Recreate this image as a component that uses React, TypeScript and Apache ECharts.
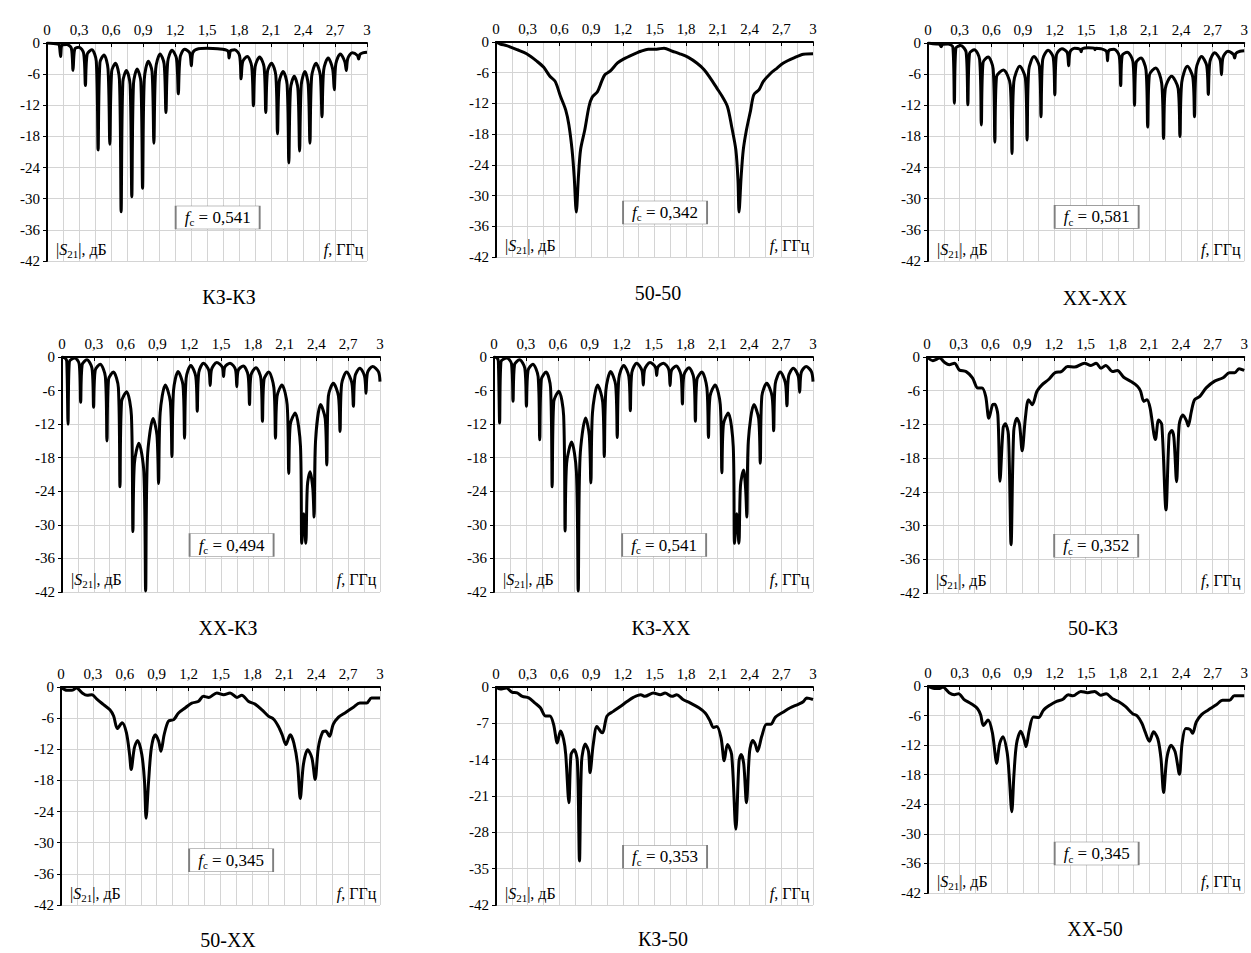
import React, { useEffect, useRef } from 'react';
import * as echarts from 'echarts';

const FONT = '"Liberation Serif", "Times New Roman", serif';

// ---------- DATA ----------
const titles = ['КЗ-КЗ', '50-50', 'ХХ-ХХ', 'ХХ-КЗ', 'КЗ-ХХ', '50-КЗ', '50-ХХ', 'КЗ-50', 'ХХ-50'];
const fcValues = ['0,541', '0,342', '0,581', '0,494', '0,541', '0,352', '0,345', '0,353', '0,345'];
const xTicks = [0, 0.3, 0.6, 0.9, 1.2, 1.5, 1.8, 2.1, 2.4, 2.7, 3];
const yTicksStep6 = [0, -6, -12, -18, -24, -30, -36, -42];
const yTicksStep7 = [0, -7, -14, -21, -28, -35, -42];
const yTickSets = [yTicksStep6, yTicksStep6, yTicksStep6, yTicksStep6, yTicksStep6, yTicksStep6, yTicksStep6, yTicksStep7, yTicksStep6];

const curveKZKZ = [
  [0, 0], [0.1, -0.2], [0.115, -0.4], [0.128, -2.6], [0.141, -0.4], [0.185, -0.3],
  [0.228, -1.0], [0.244, -5.3], [0.26, -1.2], [0.3, -0.8],
  [0.344, -2.0], [0.36, -8.2], [0.376, -2.2], [0.42, -1.3],
  [0.462, -3.5], [0.479, -20.6], [0.496, -3.8], [0.535, -2.3],
  [0.572, -5.0], [0.589, -19.5], [0.606, -5.5], [0.642, -3.9],
  [0.679, -7.0], [0.695, -32.5], [0.711, -7.5], [0.745, -5.3],
  [0.779, -8.0], [0.795, -29.6], [0.811, -7.8], [0.845, -5.0],
  [0.88, -7.5], [0.896, -28.0], [0.912, -7.0], [0.95, -3.5],
  [0.985, -5.5], [1.002, -19.3], [1.019, -5.0], [1.06, -2.1],
  [1.098, -4.0], [1.115, -13.4], [1.132, -3.6], [1.172, -1.4],
  [1.214, -3.0], [1.231, -9.8], [1.248, -2.8], [1.29, -1.2],
  [1.338, -1.9], [1.353, -4.4], [1.368, -1.8], [1.42, -1.1], [1.5, -1.0], [1.6, -1.1],
  [1.695, -1.5], [1.707, -2.9], [1.72, -1.5], [1.76, -1.3],
  [1.805, -2.4], [1.82, -6.9], [1.835, -3.6], [1.878, -2.6],
  [1.919, -4.5], [1.935, -12.1], [1.951, -4.6], [1.993, -2.7],
  [2.035, -4.6], [2.051, -13.4], [2.067, -5.5], [2.105, -3.9],
  [2.145, -6.2], [2.161, -17.5], [2.177, -7.5], [2.214, -5.5],
  [2.251, -8.0], [2.267, -23.1], [2.283, -8.8], [2.318, -6.4],
  [2.352, -8.8], [2.368, -20.8], [2.384, -8.0], [2.418, -5.5],
  [2.449, -8.0], [2.465, -19.3], [2.481, -6.5], [2.522, -3.9],
  [2.562, -6.2], [2.578, -14.2], [2.594, -5.2], [2.636, -2.9],
  [2.678, -5.0], [2.693, -9.0], [2.708, -4.0], [2.75, -2.1],
  [2.792, -3.6], [2.806, -5.3], [2.82, -3.0], [2.862, -1.9],
  [2.91, -2.4], [2.922, -3.1], [2.934, -2.2], [2.96, -1.9], [3, -1.8],
];

const curve5050 = [
  [0, 0], [0.04, -0.4], [0.1, -0.7], [0.2, -1.5], [0.29, -2.3], [0.39, -3.8], [0.45, -4.9],
  [0.51, -6.7], [0.56, -7.7], [0.61, -10.6], [0.66, -13.3], [0.69, -16.2], [0.72, -21.1],
  [0.74, -26.3], [0.76, -33.2], [0.78, -26.3], [0.8, -21.1], [0.84, -17.2], [0.88, -12.6],
  [0.91, -10.8], [0.96, -9.7], [1.0, -7.7], [1.03, -6.4], [1.08, -5.7], [1.15, -4.1],
  [1.21, -3.3], [1.29, -2.5], [1.37, -1.8], [1.44, -1.4], [1.52, -1.4], [1.59, -1.2],
  [1.67, -1.8], [1.74, -2.3], [1.82, -3.0], [1.9, -4.1], [1.97, -5.4], [2.03, -7.1],
  [2.09, -9.0], [2.14, -10.6], [2.19, -12.6], [2.23, -16.5], [2.27, -21.1], [2.29, -27.0],
  [2.3, -33.2], [2.32, -26.3], [2.34, -21.1], [2.37, -17.2], [2.41, -13.3], [2.44, -10.3],
  [2.49, -9.3], [2.53, -7.7], [2.6, -6.1], [2.66, -5.1], [2.72, -4.1], [2.82, -3.1],
  [2.91, -2.4], [3, -2.3],
];

const curveXXXX = [
  [0, 0], [0.08, -0.2], [0.11, -0.25], [0.125, -0.7], [0.14, -0.25], [0.19, -0.2],
  [0.236, -0.8], [0.25, -11.6], [0.264, -1.0], [0.31, -0.5],
  [0.362, -1.8], [0.378, -11.9], [0.394, -2.0], [0.44, -1.3],
  [0.49, -3.2], [0.506, -15.8], [0.522, -3.8], [0.57, -2.7],
  [0.618, -5.0], [0.634, -19.1], [0.65, -6.5], [0.715, -5.2],
  [0.78, -8.0], [0.797, -21.3], [0.814, -7.5], [0.87, -4.5],
  [0.924, -6.8], [0.94, -18.7], [0.956, -5.2], [1.005, -2.6],
  [1.056, -4.5], [1.072, -14.2], [1.088, -3.2], [1.14, -1.4],
  [1.188, -2.8], [1.203, -10.0], [1.218, -2.3], [1.27, -1.1],
  [1.32, -1.8], [1.334, -4.4], [1.348, -1.7], [1.39, -1.0],
  [1.443, -1.2], [1.453, -1.7], [1.463, -1.1], [1.52, -0.9],
  [1.576, -1.0], [1.584, -1.3], [1.592, -1.0], [1.64, -1.1],
  [1.692, -1.6], [1.703, -3.4], [1.714, -1.5], [1.765, -1.2],
  [1.814, -2.5], [1.828, -8.2], [1.842, -2.4], [1.89, -1.8],
  [1.944, -3.6], [1.959, -12.0], [1.974, -3.8], [2.02, -2.9],
  [2.068, -5.2], [2.084, -16.2], [2.1, -6.2], [2.16, -4.8],
  [2.217, -7.8], [2.234, -18.4], [2.251, -8.8], [2.31, -6.4],
  [2.373, -8.8], [2.39, -18.0], [2.407, -7.6], [2.46, -4.5],
  [2.512, -6.6], [2.528, -14.2], [2.544, -5.0], [2.595, -2.6],
  [2.644, -4.4], [2.659, -9.9], [2.674, -3.6], [2.72, -1.9],
  [2.77, -3.2], [2.784, -6.1], [2.798, -2.8], [2.845, -1.6],
  [2.897, -2.2], [2.909, -2.9], [2.921, -2.0], [2.96, -1.6], [3, -1.5],
];

const curveXXKZ = [
  [0, 0], [0.03, -0.2], [0.045, -0.8], [0.057, -12.0], [0.069, -0.9], [0.12, -0.2],
  [0.162, -1.2], [0.176, -8.1], [0.19, -1.4], [0.235, -0.5],
  [0.283, -2.0], [0.298, -9.0], [0.313, -2.4], [0.36, -1.3],
  [0.409, -3.5], [0.424, -15.0], [0.439, -4.0], [0.485, -2.7],
  [0.532, -5.5], [0.547, -23.2], [0.562, -8.0], [0.61, -6.2],
  [0.655, -10.5], [0.669, -31.2], [0.683, -19.0], [0.725, -15.4],
  [0.772, -20.5], [0.789, -41.8], [0.806, -18.0], [0.86, -11.0],
  [0.896, -14.0], [0.911, -22.6], [0.926, -10.0], [0.975, -5.0],
  [1.022, -8.0], [1.037, -17.8], [1.052, -6.0], [1.095, -2.6],
  [1.141, -5.0], [1.156, -14.5], [1.171, -3.8], [1.215, -1.5],
  [1.262, -3.5], [1.276, -9.7], [1.29, -2.8], [1.335, -1.1],
  [1.385, -2.4], [1.398, -5.1], [1.411, -2.2], [1.46, -1.0],
  [1.512, -1.8], [1.524, -3.5], [1.536, -1.8], [1.585, -1.1],
  [1.636, -2.2], [1.649, -5.3], [1.662, -2.4], [1.71, -1.6],
  [1.755, -3.2], [1.769, -8.5], [1.783, -3.2], [1.83, -1.9],
  [1.876, -3.8], [1.891, -11.5], [1.906, -4.0], [1.95, -2.7],
  [1.999, -5.5], [2.014, -14.5], [2.029, -7.0], [2.075, -5.0],
  [2.124, -8.5], [2.139, -20.8], [2.154, -12.0], [2.2, -10.0],
  [2.25, -16.0], [2.262, -33.3], [2.281, -28.0], [2.3, -33.3], [2.315, -23.0], [2.34, -20.5],
  [2.366, -23.5], [2.378, -28.6], [2.392, -15.0], [2.44, -8.5],
  [2.483, -11.0], [2.498, -19.3], [2.513, -7.0], [2.56, -4.7],
  [2.608, -7.0], [2.623, -13.3], [2.638, -4.8], [2.685, -2.7],
  [2.734, -4.6], [2.749, -8.8], [2.764, -3.5], [2.81, -2.0],
  [2.854, -3.4], [2.868, -6.5], [2.882, -2.8], [2.93, -1.7],
  [2.985, -2.6], [3, -4.4],
];

const curveKZXX = [
  [0, 0], [0.03, -0.2], [0.041, -0.8], [0.053, -11.8], [0.065, -0.9], [0.12, -0.2],
  [0.165, -1.2], [0.179, -7.9], [0.193, -1.4], [0.24, -0.5],
  [0.29, -2.0], [0.305, -8.8], [0.32, -2.4], [0.365, -1.3],
  [0.415, -3.5], [0.43, -14.8], [0.445, -4.0], [0.49, -2.7],
  [0.532, -5.5], [0.547, -23.2], [0.562, -8.0], [0.61, -6.1],
  [0.655, -10.5], [0.669, -31.1], [0.683, -19.0], [0.73, -15.2],
  [0.775, -20.5], [0.792, -41.8], [0.809, -18.0], [0.862, -10.9],
  [0.896, -14.0], [0.911, -22.5], [0.926, -10.0], [0.975, -5.0],
  [1.022, -8.0], [1.037, -17.8], [1.052, -6.0], [1.097, -2.6],
  [1.144, -5.0], [1.159, -14.4], [1.174, -3.8], [1.22, -1.5],
  [1.268, -3.5], [1.282, -9.6], [1.296, -2.8], [1.342, -1.1],
  [1.391, -2.4], [1.404, -5.0], [1.417, -2.2], [1.467, -1.0],
  [1.518, -1.8], [1.53, -3.3], [1.542, -1.8], [1.593, -1.1],
  [1.643, -2.2], [1.656, -5.1], [1.669, -2.4], [1.714, -1.6],
  [1.758, -3.2], [1.772, -8.4], [1.786, -3.2], [1.833, -1.9],
  [1.879, -3.8], [1.894, -11.5], [1.909, -4.0], [1.955, -2.7],
  [2.002, -5.5], [2.017, -14.4], [2.032, -7.0], [2.08, -5.0],
  [2.128, -8.5], [2.143, -20.7], [2.158, -12.0], [2.203, -10.0],
  [2.25, -16.0], [2.262, -33.3], [2.283, -28.0], [2.303, -33.3], [2.318, -23.0], [2.347, -20.2],
  [2.366, -23.5], [2.378, -28.6], [2.392, -15.0], [2.445, -8.5],
  [2.489, -11.0], [2.504, -19.0], [2.519, -7.0], [2.565, -4.7],
  [2.615, -7.0], [2.63, -13.2], [2.645, -4.8], [2.692, -2.7],
  [2.74, -4.6], [2.755, -8.7], [2.77, -3.5], [2.815, -2.0],
  [2.861, -3.4], [2.875, -6.3], [2.889, -2.8], [2.935, -1.7],
  [2.985, -2.6], [3, -4.4],
];

const curve50KZ = [
  [0, 0], [0.056, -0.65], [0.12, -0.2], [0.165, -0.95], [0.21, -1.4], [0.26, -1.1],
  [0.305, -2.3], [0.37, -2.6], [0.43, -3.7], [0.48, -5.5], [0.52, -5.5], [0.555, -7.0],
  [0.585, -10.9], [0.62, -8.5], [0.64, -8.4], [0.67, -10.3], [0.69, -22.1], [0.72, -12.6],
  [0.74, -11.9], [0.77, -13.8], [0.795, -33.4], [0.82, -13.2], [0.85, -10.9], [0.875, -12.0],
  [0.9, -16.7], [0.93, -10.9], [0.96, -7.6], [0.995, -8.5], [1.04, -6.1], [1.085, -5.0],
  [1.15, -4.0], [1.21, -2.8], [1.27, -2.6], [1.33, -1.7], [1.395, -1.8], [1.49, -1.1],
  [1.55, -1.5], [1.6, -1.1], [1.645, -2.0], [1.69, -1.5], [1.755, -2.6], [1.8, -2.4],
  [1.86, -3.6], [1.925, -4.3], [1.99, -5.2], [2.02, -6.1], [2.05, -7.9], [2.08, -7.6],
  [2.11, -9.1], [2.16, -14.7], [2.19, -11.2], [2.22, -12.0], [2.26, -27.2], [2.29, -13.8],
  [2.315, -13.1], [2.335, -14.4], [2.36, -22.2], [2.385, -12.0], [2.42, -10.3], [2.455, -11.4],
  [2.47, -12.3], [2.5, -9.7], [2.53, -7.6], [2.58, -7.0], [2.64, -5.5], [2.72, -4.3],
  [2.8, -3.7], [2.86, -2.8], [2.91, -2.8], [2.95, -2.1], [3, -2.4],
];

const curve50XX = [
  [0, 0], [0.056, -0.65], [0.1, -0.65], [0.145, -0.2], [0.2, -1.15], [0.245, -1.6],
  [0.29, -1.5], [0.34, -2.4], [0.4, -3.4], [0.46, -4.4], [0.495, -5.6], [0.53, -8.0],
  [0.575, -6.9], [0.615, -8.8], [0.645, -13.0], [0.66, -15.9], [0.69, -11.7], [0.72, -10.3],
  [0.76, -13.0], [0.785, -18.1], [0.8, -25.3], [0.824, -18.1], [0.85, -11.7], [0.886, -9.2],
  [0.918, -10.4], [0.94, -12.4], [0.97, -9.2], [1.01, -6.6], [1.06, -6.3], [1.105, -5.0],
  [1.17, -4.0], [1.23, -3.1], [1.29, -2.8], [1.34, -1.8], [1.39, -2.0], [1.465, -1.15],
  [1.53, -1.5], [1.59, -1.15], [1.655, -2.0], [1.7, -1.6], [1.765, -2.8], [1.825, -3.3],
  [1.89, -4.4], [1.95, -5.6], [2.0, -6.2], [2.045, -7.6], [2.08, -9.2], [2.115, -11.1],
  [2.155, -9.2], [2.19, -10.8], [2.225, -14.9], [2.25, -21.5], [2.28, -14.9], [2.32, -12.1],
  [2.36, -13.7], [2.39, -17.8], [2.42, -11.7], [2.46, -8.7], [2.49, -8.5], [2.525, -9.5],
  [2.56, -7.2], [2.61, -5.8], [2.67, -5.0], [2.75, -3.9], [2.81, -3.1], [2.875, -3.1],
  [2.92, -2.1], [3, -2.1],
];

const curveKZ50 = [
  [0, 0], [0.04, -0.4], [0.1, -0.2], [0.15, -1.0], [0.2, -1.15], [0.25, -1.8],
  [0.31, -2.1], [0.37, -3.1], [0.42, -4.0], [0.47, -5.6], [0.51, -5.6], [0.545, -7.2],
  [0.58, -10.8], [0.61, -8.5], [0.64, -10.1], [0.66, -13.0], [0.69, -22.3], [0.71, -13.0],
  [0.74, -12.1], [0.77, -14.3], [0.79, -33.5], [0.81, -14.3], [0.845, -11.0], [0.875, -12.4],
  [0.89, -16.5], [0.92, -11.1], [0.955, -7.6], [0.995, -8.7], [1.01, -8.8], [1.05, -5.6],
  [1.11, -4.7], [1.18, -3.7], [1.24, -2.8], [1.3, -2.0], [1.37, -1.5], [1.41, -1.8],
  [1.49, -1.15], [1.555, -1.5], [1.6, -1.15], [1.665, -1.8], [1.71, -1.5], [1.77, -2.4],
  [1.84, -3.1], [1.92, -4.0], [1.98, -5.0], [2.02, -6.3], [2.06, -7.8], [2.09, -7.6],
  [2.13, -9.8], [2.16, -14.2], [2.19, -11.1], [2.23, -13.0], [2.27, -27.4], [2.3, -14.3],
  [2.32, -13.0], [2.345, -14.9], [2.37, -22.3], [2.4, -12.4], [2.43, -10.3], [2.455, -11.1],
  [2.475, -12.4], [2.515, -9.5], [2.56, -7.2], [2.6, -7.2], [2.645, -5.8], [2.72, -4.8],
  [2.785, -4.0], [2.865, -3.3], [2.91, -2.8], [2.94, -2.1], [3, -2.4],
];

const curveXX50 = [
  [0, 0], [0.06, -0.5], [0.11, -0.5], [0.14, -0.2], [0.2, -1.35], [0.25, -1.75],
  [0.29, -1.55], [0.34, -2.7], [0.41, -3.6], [0.47, -4.6], [0.5, -5.9], [0.525, -8.0],
  [0.57, -6.9], [0.61, -9.4], [0.635, -13.5], [0.65, -15.7], [0.68, -11.7], [0.71, -10.3],
  [0.75, -13.4], [0.77, -18.1], [0.795, -25.5], [0.815, -18.1], [0.84, -11.7], [0.88, -9.2],
  [0.91, -10.7], [0.93, -12.3], [0.96, -9.0], [1.0, -6.3], [1.05, -6.4], [1.095, -4.9],
  [1.155, -3.9], [1.22, -3.1], [1.28, -2.7], [1.33, -1.75], [1.375, -2.0], [1.45, -1.1],
  [1.515, -1.35], [1.58, -1.1], [1.64, -1.9], [1.69, -1.55], [1.75, -2.6], [1.81, -3.2],
  [1.875, -4.2], [1.94, -5.6], [1.985, -6.1], [2.03, -7.6], [2.06, -9.3], [2.1, -11.2],
  [2.14, -9.3], [2.18, -10.7], [2.21, -14.7], [2.235, -21.6], [2.265, -14.7], [2.305, -12.0],
  [2.345, -13.4], [2.385, -17.9], [2.41, -11.7], [2.445, -8.6], [2.485, -8.8], [2.51, -9.6],
  [2.545, -7.3], [2.595, -5.8], [2.655, -4.9], [2.735, -3.8], [2.795, -2.9], [2.86, -2.9],
  [2.905, -2.0], [3, -2.0],
];

const curves = [curveKZKZ, curve5050, curveXXXX, curveXXKZ, curveKZXX, curve50KZ, curve50XX, curveKZ50, curveXX50];

// ---------- LAYOUT ----------
const grids = [
  [47, 43, 320, 218],
  [496, 42, 317, 215],
  [928, 43, 320, 218],
  [62, 357, 318, 235],
  [494, 357, 319, 235],
  [927, 357, 321, 236],
  [61, 687, 319, 218],
  [496, 687, 317, 218],
  [928, 686, 320, 207],
];
const titlePos = [
  [229, 297], [658, 293], [1095, 298],
  [228, 628], [661, 628], [1093, 628],
  [228, 940], [663, 939], [1095, 929],
];
const fcBoxY = [-33.6, -33.3, -33.5, -33.6, -33.6, -33.6, -33.4, -32.7, -34];

const GRID_COLOR = '#d4d4d4';

function fmtX(v: number) {
  return String(Math.round(v * 10) / 10).replace('.', ',');
}

const richBase = {
  n: { fontFamily: FONT, fontSize: 16, color: '#000', lineHeight: 20 },
  i: { fontFamily: FONT, fontSize: 16, fontStyle: 'italic', color: '#000', lineHeight: 20 },
  s: { fontFamily: FONT, fontSize: 11, color: '#000', lineHeight: 11, verticalAlign: 'bottom' },
};
const richFc = {
  n: { fontFamily: FONT, fontSize: 17, color: '#000', lineHeight: 21 },
  i: { fontFamily: FONT, fontSize: 17, fontStyle: 'italic', color: '#000', lineHeight: 21 },
  s: { fontFamily: FONT, fontSize: 11, color: '#000', lineHeight: 11, verticalAlign: 'bottom' },
};

function buildOption() {
  const gridOpt = grids.map((g) => ({ left: g[0], top: g[1], width: g[2], height: g[3], containLabel: false }));
  const xAxes = grids.map((_, i) => ({
    gridIndex: i,
    type: 'value',
    min: xTicks[0],
    max: xTicks[xTicks.length - 1],
    interval: xTicks[1] - xTicks[0],
    position: 'top',
    axisLine: { show: true, onZero: false, lineStyle: { color: '#000', width: 2 } },
    axisTick: { show: true, inside: true, length: 4, lineStyle: { color: '#000', width: 1 } },
    minorTick: { show: false, splitNumber: 2 },
    minorSplitLine: { show: true, lineStyle: { color: GRID_COLOR, width: 1 } },
    splitLine: { show: true, lineStyle: { color: GRID_COLOR, width: 1 } },
    axisLabel: { fontFamily: FONT, fontSize: 15, color: '#000', margin: 6, formatter: (v: number) => fmtX(v) },
  }));
  const yAxes = grids.map((_, i) => {
    const t = yTickSets[i];
    return {
      gridIndex: i,
      type: 'value',
      min: t[t.length - 1],
      max: t[0],
      interval: t[0] - t[1],
      axisLine: { show: true, onZero: false, lineStyle: { color: '#000', width: 2 } },
      axisTick: { show: true, length: 4, lineStyle: { color: '#000', width: 1 } },
      splitLine: { show: true, lineStyle: { color: GRID_COLOR, width: 1 } },
      axisLabel: { fontFamily: FONT, fontSize: 15, color: '#000', margin: 7, formatter: (v: number) => String(v) },
    };
  });
  const series = curves.map((c, i) => ({
    type: 'line',
    xAxisIndex: i,
    yAxisIndex: i,
    data: c,
    symbol: 'none',
    showSymbol: false,
    smooth: 0.3,
    itemStyle: { color: '#000' },
    lineStyle: { color: '#000', width: 3 },
    silent: true,
    markPoint: {
      silent: true,
      animation: false,
      data: [
        {
          coord: [1.6, fcBoxY[i]],
          symbol: 'rect',
          symbolSize: [84, 23],
          itemStyle: { color: '#fff', borderColor: '#7f7f7f', borderWidth: 1 },
          label: {
            show: true,
            position: 'inside',
            color: '#000',
            formatter: () => `{i|f}{s|c}{n| = ${fcValues[i]}}`,
            rich: richFc,
          },
        },
        {
          coord: [0.08, -39.7],
          symbol: 'rect',
          symbolSize: 1,
          itemStyle: { color: 'rgba(0,0,0,0)' },
          label: {
            show: true,
            position: 'right',
            distance: 0,
            color: '#000',
            formatter: () => '{n|\u007C}{i|S}{s|21}{n|\u007C, дБ}',
            rich: richBase,
          },
        },
        {
          coord: [2.97, -39.7],
          symbol: 'rect',
          symbolSize: 1,
          itemStyle: { color: 'rgba(0,0,0,0)' },
          label: {
            show: true,
            position: 'left',
            distance: 0,
            color: '#000',
            formatter: () => '{i|f}{n|, ГГц}',
            rich: richBase,
          },
        },
      ],
    },
  }));
  const graphic = titles.map((t, i) => ({
    type: 'text',
    x: titlePos[i][0],
    y: titlePos[i][1],
    silent: true,
    style: {
      text: t,
      fontFamily: FONT,
      fontSize: 20,
      fill: '#000',
      align: 'center',
      verticalAlign: 'middle',
    },
  }));
  return {
    animation: false,
    backgroundColor: '#fff',
    color: ['#000'],
    grid: gridOpt,
    xAxis: xAxes,
    yAxis: yAxes,
    series,
    graphic,
  };
}

export default function App() {
  const ref = useRef<HTMLDivElement>(null);
  useEffect(() => {
    document.body.style.margin = '0';
    const chart = echarts.init(ref.current as HTMLDivElement, undefined, { renderer: 'svg' });
    chart.setOption(buildOption() as any);
    return () => {
      chart.dispose();
    };
  }, []);
  return <div ref={ref} style={{ width: 1251, height: 953 }} />;
}
